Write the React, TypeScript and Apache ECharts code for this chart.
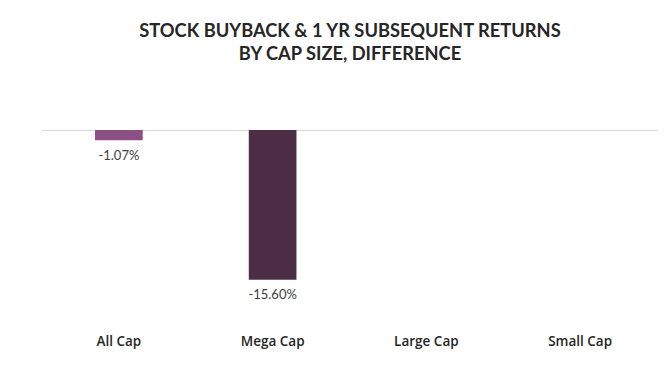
import React, { useEffect, useRef } from "react";
import * as echarts from "echarts";

const categories = ["All Cap", "Mega Cap", "Large Cap", "Small Cap"];
const values: (number | null)[] = [-1.07, -15.6, null, null];
const barColors = ["#8b4f86", "#4b2d46", "#4b2d46", "#4b2d46"];
const titleText = "STOCK BUYBACK & 1 YR SUBSEQUENT RETURNS\nBY CAP SIZE, DIFFERENCE";

export default function App() {
  const ref = useRef<HTMLDivElement>(null);
  useEffect(() => {
    if (!ref.current) return;
    const chart = echarts.init(ref.current, undefined, { renderer: "svg" });
    chart.setOption({
      animation: false,
      backgroundColor: "#ffffff",
      title: {
        text: titleText,
        left: 345,
        textAlign: "center",
        top: 13,
        textStyle: {
          fontFamily: "Lato",
          fontWeight: "bold",
          fontSize: 18.3,
          lineHeight: 23,
          color: "#262626",
        },
      },
      grid: { left: 42, right: 8, top: 130, bottom: 52 },
      xAxis: [
        {
          type: "category",
          data: categories,
          position: "bottom",
          axisLine: { show: false },
          axisTick: { show: false },
          axisLabel: {
            margin: 12,
            fontFamily: "Open Sans",
            fontWeight: 600,
            fontSize: 13.5,
            color: "#262626",
          },
        },
        {
          type: "category",
          data: categories,
          position: "top",
          axisLine: { show: true, onZero: false, lineStyle: { color: "#d9d9d9", width: 1 } },
          axisTick: { show: false },
          axisLabel: { show: false },
        },
      ],
      yAxis: {
        type: "value",
        min: -20,
        max: 0,
        interval: 20,
        show: false,
        splitLine: { show: false },
      },
      series: [
        {
          type: "bar",
          xAxisIndex: 0,
          barWidth: "31%",
          data: values.map((v, i) => ({ value: v, itemStyle: { color: barColors[i] } })),
          label: {
            show: true,
            position: "bottom",
            distance: 8,
            fontFamily: "Lato",
            fontSize: 13,
            color: "#404040",
            formatter: (p: any) => (p.value == null ? "" : p.value.toFixed(2) + "%"),
          },
        },
      ],
    });
    return () => chart.dispose();
  }, []);
  return (
    <div
      ref={ref}
      style={{ position: "absolute", left: 0, top: 0, width: 665, height: 374 }}
    />
  );
}
